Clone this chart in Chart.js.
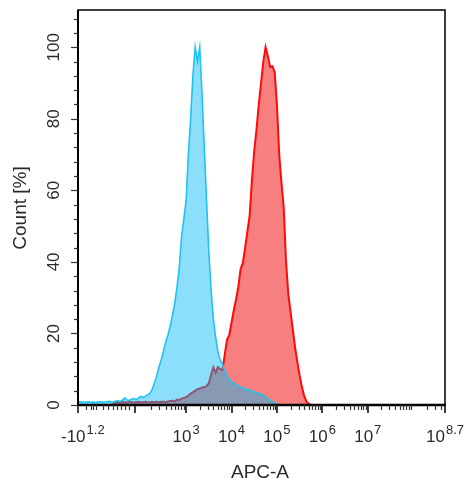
<!DOCTYPE html>
<html>
<head>
<meta charset="utf-8">
<script src="https://cdn.jsdelivr.net/npm/chart.js@4.4.1/dist/chart.umd.min.js"></script>
<style>
  html, body { margin: 0; padding: 0; background: #ffffff; }
  canvas { display: block; }
</style>
</head>
<body>
<canvas id="c" width="470" height="486"></canvas>
<script>
// x positions are in display "decade" units of the biexponential APC-A axis
const bins = Array.from({ length: 109 }, (_, i) => Math.round((0.60 + i * 0.05) * 100) / 100);

// Blue histogram (control), Count [%]
const blueValues = [
  0.8, 0.9, 0.8, 0.7, 0.8, 0.9, 0.7, 0.8, 0.7, 0.8, 0.9, 0.8, 0.7, 0.9,
  1.0, 0.9, 0.8, 1.1, 1.2, 1.0, 1.4, 2.0, 1.4, 1.3, 1.6, 1.8, 1.5, 1.9,
  2.4, 2.1, 2.4, 2.8, 3.2, 4.3, 6.0, 8.0, 10.5, 12.5, 15.0, 17.5, 19.5, 22,
  25, 28.5, 33, 38.5, 47, 52, 57, 70, 80, 92, 100, 96, 100, 87,
  72, 57, 43, 32, 24, 19, 15, 12.5, 11.5, 9.5, 8, 7.2, 6.5, 6,
  5.6, 5.3, 5, 4.8, 4.5, 4.3, 4.2, 3.9, 3.6, 3.4, 3.2, 3.0, 2.8, 2.2,
  1.8, 1.3, 0.9, 0.5, 0.2, 0
];

// Red histogram (stained sample), Count [%]
const redValues = [
  0, 0, 0, 0, 0, 0, 0, 0, 0, 0, 0, 0, 0, 0, 0, 0,
  0.3, 0.7, 0.8, 0.6, 0.9, 0.8, 0.7, 0.9, 0.8, 0.7, 0.8, 0.9, 0.7, 0.8,
  0.9, 0.8, 0.7, 0.9, 0.8, 0.9, 0.8, 0.9, 0.9, 0.8, 1.0, 1.1, 1.2, 1.0,
  1.5, 1.4, 1.8, 2.0, 2.2, 2.6, 3.2, 3.6, 4.0, 4.4, 4.6, 4.9, 5.0, 5.3,
  6.0, 8.5, 10.5, 9.0, 10.6, 10.0, 9.8, 14, 18.2, 19.5, 23, 26.5, 29.5, 33,
  38, 39.7, 44, 48.5, 53, 63, 71, 77, 84, 90, 96, 100, 97.5, 94.5,
  94.7, 93, 84, 70, 62, 55, 40, 31, 26, 21, 16, 12, 8.2, 5,
  2.5, 1.0, 0.3, 0
];

const xMajorTicks = [0.62, 1.88, 3, 4, 5, 6, 7, 8.7];
const xTickBase = ["-10", "", "10", "10", "10", "10", "10", "10"];
const xTickExp = ["1.2", "", "3", "4", "5", "6", "7", "8.7"];
const xMinorTicksLow = [0.80, 0.90, 0.96, 1.01, 1.16, 1.27, 1.38, 1.47, 1.57, 1.66, 1.75,
                        2.22, 2.41, 2.55, 2.66, 2.75, 2.83, 2.89, 2.95];
const yMajorTicks = [0, 20, 40, 60, 80, 100];
const yMinorTicks = [4, 8, 12, 16, 24, 28, 32, 36, 44, 48, 52, 56, 64, 68, 72, 76, 84, 88, 92, 96, 104, 108];
const xTitle = "APC-A";
const yTitle = "Count [%]";

const FONT = '"Liberation Sans", Arial, Helvetica, sans-serif';
const TEXT = '#2a2a2a';

const axesPlugin = {
  id: 'flowAxes',
  afterDraw(chart) {
    const ctx = chart.ctx;
    const a = chart.chartArea;
    const xs = chart.scales.x, ys = chart.scales.y;
    ctx.save();
    ctx.strokeStyle = '#000';
    // frame
    ctx.lineWidth = 1.5;
    ctx.strokeRect(a.left, a.top, a.right - a.left, a.bottom - a.top);
    ctx.lineWidth = 2;
    ctx.beginPath(); ctx.moveTo(a.left, a.top); ctx.lineTo(a.left, a.bottom + 1); ctx.stroke();
    ctx.lineWidth = 2.5;
    ctx.beginPath(); ctx.moveTo(a.left - 1, a.bottom); ctx.lineTo(a.right + 0.75, a.bottom); ctx.stroke();

    // y ticks
    ctx.lineWidth = 1.2;
    ctx.strokeStyle = '#333';
    yMajorTicks.forEach(v => {
      const y = Math.round(ys.getPixelForValue(v)) + 0.5;
      ctx.beginPath(); ctx.moveTo(a.left - 7, y); ctx.lineTo(a.left, y); ctx.stroke();
    });
    yMinorTicks.forEach(v => {
      const y = Math.round(ys.getPixelForValue(v)) + 0.5;
      ctx.beginPath(); ctx.moveTo(a.left - 4, y); ctx.lineTo(a.left, y); ctx.stroke();
    });
    // y labels rotated
    ctx.fillStyle = TEXT;
    ctx.font = '17px ' + FONT;
    ctx.textAlign = 'center';
    ctx.textBaseline = 'alphabetic';
    yMajorTicks.forEach(v => {
      const y = ys.getPixelForValue(v);
      ctx.save();
      ctx.translate(59, y);
      ctx.rotate(-Math.PI / 2);
      ctx.fillText(String(v), 0, 0);
      ctx.restore();
    });
    // y title
    ctx.save();
    ctx.font = '19px ' + FONT;
    ctx.translate(26, 208);
    ctx.rotate(-Math.PI / 2);
    ctx.fillText(yTitle, 0, 0);
    ctx.restore();

    // x ticks
    const minor = xMinorTicksLow.slice();
    for (let d = 3; d <= 8; d++) {
      for (let k = 2; k <= 9; k++) {
        const v = d + Math.log10(k);
        if (v < 8.69) minor.push(v);
      }
    }
    ctx.strokeStyle = '#333';
    ctx.lineWidth = 1.2;
    minor.forEach(v => {
      const x = Math.round(xs.getPixelForValue(v)) + 0.5;
      ctx.beginPath(); ctx.moveTo(x, a.bottom); ctx.lineTo(x, a.bottom + 5); ctx.stroke();
    });
    ctx.lineWidth = 1.6;
    ctx.strokeStyle = '#111';
    xMajorTicks.forEach(v => {
      const x = Math.round(xs.getPixelForValue(v));
      ctx.beginPath(); ctx.moveTo(x, a.bottom); ctx.lineTo(x, a.bottom + 8); ctx.stroke();
    });

    // x labels with superscripts
    ctx.fillStyle = TEXT;
    ctx.textAlign = 'left';
    xMajorTicks.forEach((v, i) => {
      if (!xTickBase[i]) return;
      const x = xs.getPixelForValue(v);
      ctx.font = '17px ' + FONT;
      const wb = ctx.measureText(xTickBase[i]).width;
      ctx.font = '13px ' + FONT;
      const we = ctx.measureText(xTickExp[i]).width;
      let x0 = x - (wb + we + 1) / 2;
      if (i === 0) x0 = 61;
      ctx.font = '17px ' + FONT;
      ctx.fillText(xTickBase[i], x0, 442);
      ctx.font = '13px ' + FONT;
      ctx.fillText(xTickExp[i], x0 + wb + 1, 434);
    });
    // x title
    ctx.font = '19px ' + FONT;
    ctx.textAlign = 'center';
    ctx.fillText(xTitle, 260, 478);
    ctx.restore();
  }
};

const toPoints = vals => vals.map((v, i) => ({ x: bins[i], y: v }));

new Chart(document.getElementById('c'), {
  type: 'line',
  data: {
    datasets: [
      {
        label: 'Control',
        order: 0,
        data: toPoints(blueValues),
        borderColor: 'rgb(30, 195, 240)',
        borderWidth: 1.6,
        backgroundColor: 'rgba(0, 185, 245, 0.45)',
        fill: 'origin',
        pointRadius: 0,
        tension: 0
      },
      {
        label: 'Sample',
        order: 1,
        data: toPoints(redValues),
        borderColor: 'rgb(255, 10, 10)',
        borderWidth: 2,
        backgroundColor: 'rgba(240, 0, 0, 0.5)',
        fill: 'origin',
        pointRadius: 0,
        tension: 0
      }
    ]
  },
  options: {
    responsive: false,
    animation: false,
    devicePixelRatio: 1,
    layout: { padding: { left: 78, top: 10, right: 25, bottom: 81 } },
    plugins: { legend: { display: false }, tooltip: { enabled: false } },
    scales: {
      x: { type: 'linear', min: 0.62, max: 8.7, display: false },
      y: { type: 'linear', min: 0, max: 110.4, display: false }
    }
  },
  plugins: [axesPlugin]
});
</script>
</body>
</html>
